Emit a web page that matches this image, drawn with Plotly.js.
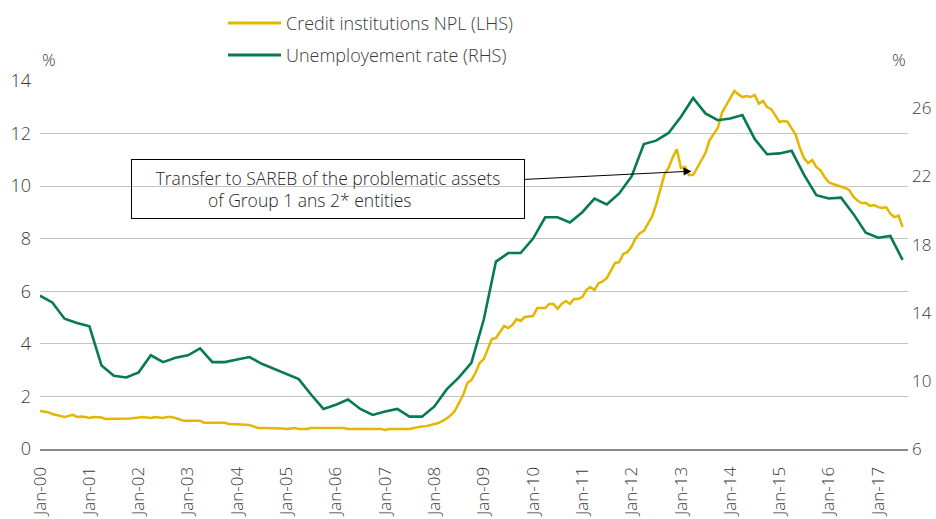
<!DOCTYPE html>
<html>
<head>
<meta charset="utf-8">
<script src="https://cdn.plot.ly/plotly-3.0.1.min.js"></script>
<style>html,body{margin:0;padding:0;background:#fff;}#chart{width:936px;height:519px;}</style>
</head>
<body>
<div id="chart"></div>
<script>
// Monthly Credit institutions NPL (%), Jan-2000 .. Jul-2017 (LHS)
const nplValues = [
  1.45, 1.43, 1.40, 1.33, 1.30, 1.26, 1.22, 1.26, 1.30, 1.22, 1.24, 1.22, // 2000
  1.18, 1.22, 1.22, 1.20, 1.14, 1.14, 1.14, 1.14, 1.14, 1.14, 1.16, 1.18, // 2001
  1.20, 1.22, 1.20, 1.18, 1.22, 1.20, 1.18, 1.22, 1.22, 1.18, 1.12, 1.07, // 2002
  1.07, 1.07, 1.07, 1.07, 1.00, 1.00, 1.00, 1.00, 1.00, 1.00, 0.95, 0.95, // 2003
  0.94, 0.93, 0.92, 0.91, 0.86, 0.80, 0.80, 0.80, 0.80, 0.80, 0.80, 0.78, // 2004
  0.76, 0.78, 0.80, 0.76, 0.76, 0.76, 0.80, 0.80, 0.80, 0.80, 0.80, 0.80, // 2005
  0.80, 0.80, 0.80, 0.76, 0.76, 0.76, 0.76, 0.76, 0.76, 0.76, 0.76, 0.76, // 2006
  0.72, 0.76, 0.76, 0.76, 0.76, 0.76, 0.76, 0.80, 0.84, 0.86, 0.87, 0.91, // 2007
  0.95, 0.99, 1.07, 1.16, 1.28, 1.45, 1.75, 2.05, 2.51, 2.62, 2.90, 3.27, // 2008
  3.42, 3.80, 4.18, 4.22, 4.45, 4.68, 4.60, 4.72, 4.94, 4.87, 5.02, 5.04, // 2009
  5.06, 5.36, 5.36, 5.36, 5.52, 5.52, 5.33, 5.52, 5.63, 5.52, 5.71, 5.71, // 2010
  5.78, 6.05, 6.16, 6.05, 6.31, 6.38, 6.50, 6.80, 7.08, 7.11, 7.42, 7.49, // 2011
  7.70, 8.03, 8.20, 8.30, 8.60, 8.85, 9.30, 9.93, 10.45, 10.70, 11.10, 11.40, // 2012
  10.69, 10.73, 10.42, 10.42, 10.69, 10.99, 11.26, 11.75, 11.98, 12.21, 12.80, 13.08, // 2013
  13.35, 13.62, 13.50, 13.39, 13.43, 13.39, 13.47, 13.14, 13.24, 13.01, 12.93, 12.70, // 2014
  12.44, 12.48, 12.45, 12.20, 11.95, 11.45, 11.07, 10.88, 10.99, 10.73, 10.60, 10.35, // 2015
  10.15, 10.08, 10.03, 10.00, 9.93, 9.85, 9.60, 9.45, 9.36, 9.36, 9.25, 9.28, // 2016
  9.20, 9.17, 9.20, 8.95, 8.82, 8.88, 8.45 // 2017
];
// Quarterly unemployment rate (%), Q1-2000 .. Q3-2017 (RHS)
const unemploymentValues = [
  15.0, 14.6, 13.65, 13.4,   // 2000
  13.2, 10.9, 10.3, 10.2,    // 2001
  10.5, 11.5, 11.1, 11.35,   // 2002
  11.5, 11.9, 11.1, 11.1,    // 2003
  11.25, 11.4, 11.0, 10.7,   // 2004
  10.4, 10.1, 9.2, 8.35,     // 2005
  8.6, 8.9, 8.35, 8.0,       // 2006
  8.2, 8.35, 7.9, 7.9,       // 2007
  8.5, 9.5, 10.2, 11.05,     // 2008
  13.6, 17.0, 17.5, 17.5,    // 2009
  18.35, 19.6, 19.6, 19.3,   // 2010
  19.9, 20.7, 20.35, 21.0,   // 2011
  22.0, 23.9, 24.1, 24.55,   // 2012
  25.5, 26.6, 25.7, 25.3,    // 2013
  25.4, 25.6, 24.2, 23.3,    // 2014
  23.35, 23.5, 22.1, 20.9,   // 2015
  20.7, 20.75, 19.8, 18.7,   // 2016
  18.4, 18.5, 17.1           // 2017
];
const startYear = 2000;
const seriesNames = ['Credit institutions NPL (LHS)', 'Unemployement rate (RHS)'];
const seriesColors = ['#e4b600', '#077a50'];
const leftTicks = [0, 2, 4, 6, 8, 10, 12, 14];
const rightTicks = [6, 10, 14, 18, 22, 26];
const annotationText = 'Transfer to SAREB of the problematic assets<br>of Group 1 ans 2* entities&nbsp;&nbsp;&nbsp;&nbsp;&nbsp;&nbsp;&nbsp;&nbsp;';

function monthDate(i) {
  const y = startYear + Math.floor(i / 12);
  const m = (i % 12) + 1;
  return y + '-' + String(m).padStart(2, '0') + '-01';
}
const nplDates = nplValues.map((_, i) => monthDate(i));
const unempDates = unemploymentValues.map((_, i) => monthDate(i * 3));

const font = 'Open Sans, Noto Sans, sans-serif';
const textColor = '#3a3a3a';
const W = 868, H = 368; // plot area size in px

const traces = [
  {
    x: nplDates, y: nplValues, name: seriesNames[0], type: 'scatter', mode: 'lines',
    line: {color: seriesColors[0], width: 2.5}, yaxis: 'y'
  },
  {
    x: unempDates, y: unemploymentValues, name: seriesNames[1], type: 'scatter', mode: 'lines',
    line: {color: seriesColors[1], width: 2.6}, yaxis: 'y2'
  }
];

// legend drawn as line shapes + text in paper coordinates
const legendRowsPx = [23, 55];
const shapes = [];
const legendAnn = [];
seriesNames.forEach((name, i) => {
  const yp = 1 + (81 - legendRowsPx[i]) / H;
  shapes.push({
    type: 'line', xref: 'paper', yref: 'paper',
    x0: (228 - 40) / W, x1: (281 - 40) / W, y0: yp, y1: yp,
    line: {color: seriesColors[i], width: 3}
  });
  legendAnn.push({
    xref: 'paper', yref: 'paper', x: (284 - 40) / W, y: yp,
    xanchor: 'left', yanchor: 'middle', text: name, showarrow: false,
    font: {family: font, size: 18, color: textColor, weight: 300}
  });
});

const layout = {
  width: 936, height: 519,
  margin: {l: 40, r: 28, t: 81, b: 70},
  paper_bgcolor: '#ffffff', plot_bgcolor: '#ffffff',
  font: {family: font, size: 16, color: textColor, weight: 300},
  showlegend: false,
  xaxis: {
    type: 'date',
    range: ['2000-01-01', '2017-08-10'],
    tick0: '2000-01-01', dtick: 'M12', tickformat: '%b-%y',
    tickangle: -90, showgrid: false, zeroline: false,
    showline: true, linecolor: '#888888', linewidth: 2,
    ticks: '', ticklabelstandoff: 9,
    tickfont: {family: font, size: 17, color: textColor, weight: 300}
  },
  yaxis: {
    range: [0, 14], tickvals: leftTicks, showgrid: true, gridcolor: '#c4c4c4', gridwidth: 1,
    zeroline: false, ticks: '', ticklabelstandoff: 8,
    tickfont: {family: font, size: 18, color: textColor, weight: 300}
  },
  yaxis2: {
    overlaying: 'y', side: 'right', range: [6, 27.6], tickvals: rightTicks,
    showgrid: false, zeroline: false, ticks: '', ticklabelstandoff: 3,
    tickfont: {family: font, size: 17, color: textColor, weight: 300}
  },
  shapes: shapes,
  annotations: legendAnn.concat([
    {
      xref: 'paper', yref: 'paper', x: 0.0, y: 1.0, xshift: 0, yshift: 8,
      xanchor: 'left', yanchor: 'bottom', text: '%', showarrow: false,
      font: {family: font, size: 17, color: textColor, weight: 300}
    },
    {
      xref: 'paper', yref: 'paper', x: 1.0, y: 1.0, xshift: 0, yshift: 8,
      xanchor: 'right', yanchor: 'bottom', text: '%', showarrow: false,
      font: {family: font, size: 17, color: textColor, weight: 300}
    },
    {
      xref: 'x', yref: 'y', x: '2013-03-20', y: 10.57,
      text: annotationText, showarrow: true,
      axref: 'pixel', ayref: 'pixel', ax: -364, ay: 18,
      arrowhead: 2, arrowsize: 1.6, arrowwidth: 1, arrowcolor: '#000000',
      bordercolor: '#000000', borderwidth: 1, borderpad: 1,
      width: 390, height: 56, align: 'center',
      bgcolor: 'rgba(255,255,255,0)',
      font: {family: font, size: 17.5, color: '#262626', weight: 300}
    }
  ])
};

Plotly.newPlot('chart', traces, layout, {displayModeBar: false, staticPlot: true});
</script>
</body>
</html>
